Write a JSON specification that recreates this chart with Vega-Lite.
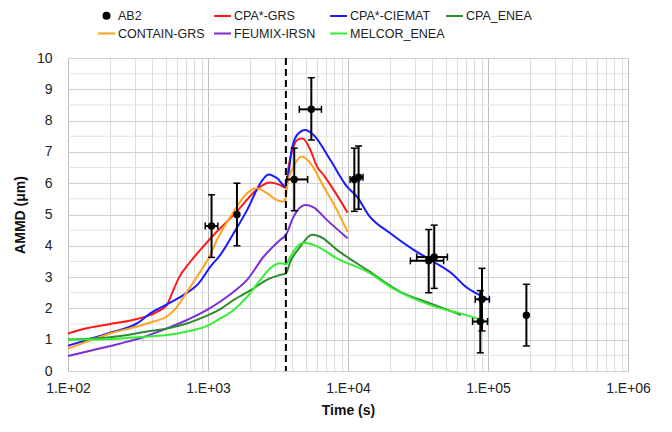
{
  "$schema": "https://vega.github.io/schema/vega-lite/v6.json",
  "width": 560,
  "height": 313,
  "autosize": {"type": "none"},
  "padding": {"left": 68, "top": 58, "right": 44, "bottom": 61},
  "background": "white",
  "config": {
    "font": "Liberation Sans",
    "view": {"stroke": "#c8c8c8", "strokeWidth": 1},
    "axis": {"labelOverlap": false, "labelFlush": false, "labelBound": false},
    "axisY": {"tickCount": 11, "labelOverlap": false}
  },
  "datasets": {
    "curves": [
      {"series": "CPA*-GRS", "t": 100, "v": 1.2}, {"series": "CPA*-GRS", "t": 129, "v": 1.34}, {"series": "CPA*-GRS", "t": 200, "v": 1.5}, {"series": "CPA*-GRS", "t": 311, "v": 1.66}, {"series": "CPA*-GRS", "t": 432, "v": 1.89}, {"series": "CPA*-GRS", "t": 509, "v": 2.11}, {"series": "CPA*-GRS", "t": 553, "v": 2.48}, {"series": "CPA*-GRS", "t": 617, "v": 2.96}, {"series": "CPA*-GRS", "t": 748, "v": 3.49}, {"series": "CPA*-GRS", "t": 881, "v": 3.87}, {"series": "CPA*-GRS", "t": 1069, "v": 4.29}, {"series": "CPA*-GRS", "t": 1611, "v": 5.1}, {"series": "CPA*-GRS", "t": 2118, "v": 5.7}, {"series": "CPA*-GRS", "t": 2366, "v": 5.89}, {"series": "CPA*-GRS", "t": 2786, "v": 6.02}, {"series": "CPA*-GRS", "t": 3281, "v": 5.94}, {"series": "CPA*-GRS", "t": 3600, "v": 5.85}, {"series": "CPA*-GRS", "t": 3767, "v": 6.53}, {"series": "CPA*-GRS", "t": 4083, "v": 7.17}, {"series": "CPA*-GRS", "t": 4400, "v": 7.4}, {"series": "CPA*-GRS", "t": 4742, "v": 7.43}, {"series": "CPA*-GRS", "t": 5383, "v": 7.06}, {"series": "CPA*-GRS", "t": 6012, "v": 6.53}, {"series": "CPA*-GRS", "t": 6699, "v": 6.26}, {"series": "CPA*-GRS", "t": 8337, "v": 5.62}, {"series": "CPA*-GRS", "t": 9930, "v": 5.06},

      {"series": "CPA*-CIEMAT", "t": 100, "v": 0.81}, {"series": "CPA*-CIEMAT", "t": 137, "v": 0.99}, {"series": "CPA*-CIEMAT", "t": 200, "v": 1.22}, {"series": "CPA*-CIEMAT", "t": 311, "v": 1.52}, {"series": "CPA*-CIEMAT", "t": 387, "v": 1.84}, {"series": "CPA*-CIEMAT", "t": 509, "v": 2.13}, {"series": "CPA*-CIEMAT", "t": 670, "v": 2.43}, {"series": "CPA*-CIEMAT", "t": 857, "v": 2.8}, {"series": "CPA*-CIEMAT", "t": 1038, "v": 3.33}, {"series": "CPA*-CIEMAT", "t": 1225, "v": 3.71}, {"series": "CPA*-CIEMAT", "t": 1524, "v": 4.4}, {"series": "CPA*-CIEMAT", "t": 1901, "v": 5.14}, {"series": "CPA*-CIEMAT", "t": 2366, "v": 6.0}, {"series": "CPA*-CIEMAT", "t": 2710, "v": 6.28}, {"series": "CPA*-CIEMAT", "t": 3112, "v": 6.16}, {"series": "CPA*-CIEMAT", "t": 3600, "v": 5.89}, {"series": "CPA*-CIEMAT", "t": 3981, "v": 7.12}, {"series": "CPA*-CIEMAT", "t": 4325, "v": 7.54}, {"series": "CPA*-CIEMAT", "t": 4955, "v": 7.7}, {"series": "CPA*-CIEMAT", "t": 5675, "v": 7.54}, {"series": "CPA*-CIEMAT", "t": 7482, "v": 6.74}, {"series": "CPA*-CIEMAT", "t": 9840, "v": 5.89}, {"series": "CPA*-CIEMAT", "t": 11588, "v": 5.57}, {"series": "CPA*-CIEMAT", "t": 14028, "v": 4.98}, {"series": "CPA*-CIEMAT", "t": 20045, "v": 4.4}, {"series": "CPA*-CIEMAT", "t": 29444, "v": 3.87}, {"series": "CPA*-CIEMAT", "t": 40832, "v": 3.49}, {"series": "CPA*-CIEMAT", "t": 56754, "v": 3.07}, {"series": "CPA*-CIEMAT", "t": 66988, "v": 2.75}, {"series": "CPA*-CIEMAT", "t": 98401, "v": 2.32},

      {"series": "CONTAIN-GRS", "t": 100, "v": 0.72}, {"series": "CONTAIN-GRS", "t": 137, "v": 0.94}, {"series": "CONTAIN-GRS", "t": 200, "v": 1.2}, {"series": "CONTAIN-GRS", "t": 311, "v": 1.42}, {"series": "CONTAIN-GRS", "t": 408, "v": 1.58}, {"series": "CONTAIN-GRS", "t": 509, "v": 1.74}, {"series": "CONTAIN-GRS", "t": 601, "v": 2.05}, {"series": "CONTAIN-GRS", "t": 708, "v": 2.53}, {"series": "CONTAIN-GRS", "t": 834, "v": 3.01}, {"series": "CONTAIN-GRS", "t": 1009, "v": 3.6}, {"series": "CONTAIN-GRS", "t": 1159, "v": 4.19}, {"series": "CONTAIN-GRS", "t": 1524, "v": 5.09}, {"series": "CONTAIN-GRS", "t": 1901, "v": 5.68}, {"series": "CONTAIN-GRS", "t": 2239, "v": 5.84}, {"series": "CONTAIN-GRS", "t": 2636, "v": 5.68}, {"series": "CONTAIN-GRS", "t": 3112, "v": 5.46}, {"series": "CONTAIN-GRS", "t": 3436, "v": 5.41}, {"series": "CONTAIN-GRS", "t": 3600, "v": 5.55}, {"series": "CONTAIN-GRS", "t": 3700, "v": 6.0}, {"series": "CONTAIN-GRS", "t": 4083, "v": 6.53}, {"series": "CONTAIN-GRS", "t": 4688, "v": 6.85}, {"series": "CONTAIN-GRS", "t": 5383, "v": 6.64}, {"series": "CONTAIN-GRS", "t": 6699, "v": 5.89}, {"series": "CONTAIN-GRS", "t": 8337, "v": 5.14}, {"series": "CONTAIN-GRS", "t": 9930, "v": 4.45},

      {"series": "FEUMIX-IRSN", "t": 100, "v": 0.48}, {"series": "FEUMIX-IRSN", "t": 152, "v": 0.67}, {"series": "FEUMIX-IRSN", "t": 237, "v": 0.88}, {"series": "FEUMIX-IRSN", "t": 366, "v": 1.12}, {"series": "FEUMIX-IRSN", "t": 509, "v": 1.36}, {"series": "FEUMIX-IRSN", "t": 708, "v": 1.63}, {"series": "FEUMIX-IRSN", "t": 984, "v": 1.95}, {"series": "FEUMIX-IRSN", "t": 1225, "v": 2.22}, {"series": "FEUMIX-IRSN", "t": 1524, "v": 2.53}, {"series": "FEUMIX-IRSN", "t": 1901, "v": 2.91}, {"series": "FEUMIX-IRSN", "t": 2495, "v": 3.65}, {"series": "FEUMIX-IRSN", "t": 3281, "v": 4.19}, {"series": "FEUMIX-IRSN", "t": 3600, "v": 4.35}, {"series": "FEUMIX-IRSN", "t": 4083, "v": 4.93}, {"series": "FEUMIX-IRSN", "t": 4955, "v": 5.3}, {"series": "FEUMIX-IRSN", "t": 5675, "v": 5.23}, {"series": "FEUMIX-IRSN", "t": 7079, "v": 4.82}, {"series": "FEUMIX-IRSN", "t": 9930, "v": 4.24},

      {"series": "CPA_ENEA", "t": 100, "v": 1.01}, {"series": "CPA_ENEA", "t": 152, "v": 1.04}, {"series": "CPA_ENEA", "t": 237, "v": 1.12}, {"series": "CPA_ENEA", "t": 366, "v": 1.26}, {"series": "CPA_ENEA", "t": 509, "v": 1.36}, {"series": "CPA_ENEA", "t": 708, "v": 1.52}, {"series": "CPA_ENEA", "t": 984, "v": 1.77}, {"series": "CPA_ENEA", "t": 1225, "v": 1.98}, {"series": "CPA_ENEA", "t": 1524, "v": 2.27}, {"series": "CPA_ENEA", "t": 2118, "v": 2.64}, {"series": "CPA_ENEA", "t": 2636, "v": 2.91}, {"series": "CPA_ENEA", "t": 3281, "v": 3.07}, {"series": "CPA_ENEA", "t": 3600, "v": 3.12}, {"series": "CPA_ENEA", "t": 3873, "v": 3.49}, {"series": "CPA_ENEA", "t": 4560, "v": 3.97}, {"series": "CPA_ENEA", "t": 5534, "v": 4.35}, {"series": "CPA_ENEA", "t": 6339, "v": 4.29}, {"series": "CPA_ENEA", "t": 8337, "v": 3.87}, {"series": "CPA_ENEA", "t": 13677, "v": 3.23}, {"series": "CPA_ENEA", "t": 23659, "v": 2.53}, {"series": "CPA_ENEA", "t": 38726, "v": 2.16}, {"series": "CPA_ENEA", "t": 64121, "v": 1.79},

      {"series": "MELCOR_ENEA", "t": 100, "v": 1.01}, {"series": "MELCOR_ENEA", "t": 152, "v": 1.01}, {"series": "MELCOR_ENEA", "t": 237, "v": 1.04}, {"series": "MELCOR_ENEA", "t": 366, "v": 1.1}, {"series": "MELCOR_ENEA", "t": 509, "v": 1.15}, {"series": "MELCOR_ENEA", "t": 708, "v": 1.26}, {"series": "MELCOR_ENEA", "t": 984, "v": 1.44}, {"series": "MELCOR_ENEA", "t": 1225, "v": 1.68}, {"series": "MELCOR_ENEA", "t": 1524, "v": 1.95}, {"series": "MELCOR_ENEA", "t": 1901, "v": 2.37}, {"series": "MELCOR_ENEA", "t": 2366, "v": 2.91}, {"series": "MELCOR_ENEA", "t": 2786, "v": 3.28}, {"series": "MELCOR_ENEA", "t": 3281, "v": 3.44}, {"series": "MELCOR_ENEA", "t": 3600, "v": 3.41}, {"series": "MELCOR_ENEA", "t": 3873, "v": 3.65}, {"series": "MELCOR_ENEA", "t": 4325, "v": 3.97}, {"series": "MELCOR_ENEA", "t": 4819, "v": 4.1}, {"series": "MELCOR_ENEA", "t": 5675, "v": 4.03}, {"series": "MELCOR_ENEA", "t": 8337, "v": 3.6}, {"series": "MELCOR_ENEA", "t": 14421, "v": 3.12}, {"series": "MELCOR_ENEA", "t": 20045, "v": 2.69}, {"series": "MELCOR_ENEA", "t": 31117, "v": 2.27}, {"series": "MELCOR_ENEA", "t": 45604, "v": 2.0}, {"series": "MELCOR_ENEA", "t": 63387, "v": 1.84}, {"series": "MELCOR_ENEA", "t": 98401, "v": 1.58}
    ],
    "obs": [
      {"series": "AB2", "t": 1060, "v": 4.63, "vlo": 3.63, "vhi": 5.63, "tlo": 955, "thi": 1176},
      {"series": "AB2", "t": 1610, "v": 5.0, "vlo": 4.0, "vhi": 6.0},
      {"series": "AB2", "t": 4130, "v": 6.12, "vlo": 5.12, "vhi": 7.12, "tlo": 3650, "thi": 5150},
      {"series": "AB2", "t": 5470, "v": 8.36, "vlo": 7.38, "vhi": 9.37, "tlo": 4490, "thi": 6460},
      {"series": "AB2", "t": 11100, "v": 6.12, "vlo": 5.1, "vhi": 7.12, "tlo": 10350, "thi": 11900},
      {"series": "AB2", "t": 11900, "v": 6.19, "vlo": 5.17, "vhi": 7.19, "tlo": 11100, "thi": 12800},
      {"series": "AB2", "t": 37700, "v": 3.52, "vlo": 2.5, "vhi": 4.52, "tlo": 27900, "thi": 48200},
      {"series": "AB2", "t": 41300, "v": 3.64, "vlo": 2.64, "vhi": 4.66, "tlo": 31000, "thi": 51300},
      {"series": "AB2", "t": 90600, "v": 2.29, "vlo": 1.28, "vhi": 3.28, "tlo": 81100, "thi": 102300},
      {"series": "AB2", "t": 88100, "v": 1.58, "vlo": 0.58, "vhi": 2.57, "tlo": 77600, "thi": 99300},
      {"series": "AB2", "t": 188000, "v": 1.78, "vlo": 0.8, "vhi": 2.77}
    ],
    "marker": [{"t": 3600}],
    "halfgrid": [{"g": 0.5}, {"g": 1.5}, {"g": 2.5}, {"g": 3.5}, {"g": 4.5}, {"g": 5.5}, {"g": 6.5}, {"g": 7.5}, {"g": 8.5}, {"g": 9.5}]
  },
  "layer": [
    {
      "data": {"name": "halfgrid"},
      "mark": {"type": "rule", "color": "#e3e3e3", "strokeWidth": 1},
      "encoding": {
        "y": {
          "field": "g", "type": "quantitative", "title": "AMMD (μm)",
          "scale": {"domain": [0, 10], "nice": false},
          "axis": {
            "title": "AMMD (μm)",
            "values": [0, 1, 2, 3, 4, 5, 6, 7, 8, 9, 10],
            "tickCount": 11,
            "format": "d",
            "grid": true,
            "gridColor": "#d0d0d0",
            "ticks": false, "tickSize": 0, "domain": false,
            "labelFont": "Liberation Sans", "labelFontSize": 14, "labelColor": "#222222",
            "labelPadding": 16, "labelOverlap": false, "labelFlush": false, "labelBound": false,
            "titleFont": "Liberation Sans", "titleFontSize": 14, "titleFontWeight": "bold", "titleColor": "#111111", "titlePadding": 9
          }
        }
      }
    },
    {
      "data": {"name": "curves"},
      "mark": {"type": "line", "strokeWidth": 2, "interpolate": "monotone"},
      "encoding": {
        "x": {
          "field": "t", "type": "quantitative", "title": "Time (s)",
          "scale": {"type": "log", "domain": [100, 1000000], "nice": false},
          "axis": {
            "title": "Time (s)",
            "values": [100, 200, 300, 400, 500, 600, 700, 800, 900, 1000, 2000, 3000, 4000, 5000, 6000, 7000, 8000, 9000, 10000, 20000, 30000, 40000, 50000, 60000, 70000, 80000, 90000, 100000, 200000, 300000, 400000, 500000, 600000, 700000, 800000, 900000, 1000000],
            "labelExpr": "abs(log(datum.value)/LN10 - round(log(datum.value)/LN10)) < 0.000001 ? '1.E+0' + round(log(datum.value)/LN10) : ''",
            "grid": true,
            "gridColor": {"condition": {"test": "abs(log(datum.value)/LN10 - round(log(datum.value)/LN10)) < 0.000001", "value": "#bdbdbd"}, "value": "#dcdcdc"},
            "gridWidth": 1,
            "ticks": false, "tickSize": 0, "domain": false,
            "labelFont": "Liberation Sans", "labelFontSize": 14, "labelColor": "#222222",
            "labelPadding": 10, "labelFlush": false, "labelOverlap": false, "labelBound": false,
            "titleFont": "Liberation Sans", "titleFontSize": 14, "titleFontWeight": "bold", "titleColor": "#111111", "titlePadding": 8
          }
        },
        "y": {
          "field": "v", "type": "quantitative", "title": "AMMD (μm)",
          "scale": {"domain": [0, 10], "nice": false},
          "axis": {
            "title": "AMMD (μm)",
            "values": [0, 1, 2, 3, 4, 5, 6, 7, 8, 9, 10],
            "tickCount": 11,
            "format": "d",
            "grid": true,
            "gridColor": "#d0d0d0",
            "ticks": false, "tickSize": 0, "domain": false,
            "labelFont": "Liberation Sans", "labelFontSize": 14, "labelColor": "#222222",
            "labelPadding": 16, "labelOverlap": false, "labelFlush": false, "labelBound": false,
            "titleFont": "Liberation Sans", "titleFontSize": 14, "titleFontWeight": "bold", "titleColor": "#111111", "titlePadding": 9
          }
        },
        "color": {
          "field": "series", "type": "nominal",
          "scale": {
            "domain": ["AB2", "CPA*-GRS", "CPA*-CIEMAT", "CPA_ENEA", "CONTAIN-GRS", "FEUMIX-IRSN", "MELCOR_ENEA"],
            "range": ["#000000", "#ff1a1a", "#1a1aff", "#2e8b2e", "#ffa31a", "#7a2fd8", "#33ee33"]
          },
          "legend": {
            "title": null,
            "orient": "none",
            "legendX": 29,
            "legendY": -52,
            "direction": "horizontal",
            "columns": 4,
            "gridAlign": "all",
            "columnPadding": -4,
            "rowPadding": 1,
            "padding": 0,
            "symbolType": "stroke",
            "symbolSize": 289,
            "symbolStrokeWidth": 2,
            "labelOffset": 2,
            "labelFont": "Liberation Sans",
            "labelFontSize": 12.5,
            "labelColor": "#222222",
            "encode": {
              "symbols": {
                "update": {
                  "shape": {"signal": "datum.value === 'AB2' ? 'circle' : 'stroke'"},
                  "size": {"signal": "datum.value === 'AB2' ? 36 : 289"},
                  "fill": {"signal": "datum.value === 'AB2' ? '#000000' : 'transparent'"}
                }
              }
            }
          }
        }
      }
    },
    {
      "data": {"name": "marker"},
      "mark": {"type": "rule", "color": "#000000", "strokeWidth": 2, "strokeDash": [7, 4]},
      "encoding": {
        "x": {"field": "t", "type": "quantitative", "title": "Time (s)", "scale": {"type": "log", "domain": [100, 1000000], "nice": false}}
      }
    },
    {
      "data": {"name": "obs"},
      "mark": {"type": "rule", "color": "#000000", "strokeWidth": 2},
      "encoding": {
        "x": {"field": "t", "type": "quantitative", "title": "Time (s)", "scale": {"type": "log", "domain": [100, 1000000], "nice": false}},
        "y": {"field": "vlo", "type": "quantitative", "title": "AMMD (μm)", "scale": {"domain": [0, 10], "nice": false}},
        "y2": {"field": "vhi"}
      }
    },
    {
      "data": {"name": "obs"},
      "transform": [{"filter": "isValid(datum.tlo)"}],
      "mark": {"type": "rule", "color": "#000000", "strokeWidth": 2},
      "encoding": {
        "x": {"field": "tlo", "type": "quantitative", "title": "Time (s)", "scale": {"type": "log", "domain": [100, 1000000], "nice": false}},
        "x2": {"field": "thi"},
        "y": {"field": "v", "type": "quantitative", "title": "AMMD (μm)", "scale": {"domain": [0, 10], "nice": false}}
      }
    },
    {
      "data": {"name": "obs"},
      "mark": {"type": "tick", "orient": "horizontal", "size": 7, "thickness": 1.5, "color": "#000000", "opacity": 1},
      "encoding": {
        "x": {"field": "t", "type": "quantitative", "title": "Time (s)", "scale": {"type": "log", "domain": [100, 1000000], "nice": false}},
        "y": {"field": "vhi", "type": "quantitative", "title": "AMMD (μm)", "scale": {"domain": [0, 10], "nice": false}}
      }
    },
    {
      "data": {"name": "obs"},
      "mark": {"type": "tick", "orient": "horizontal", "size": 7, "thickness": 1.5, "color": "#000000", "opacity": 1},
      "encoding": {
        "x": {"field": "t", "type": "quantitative", "title": "Time (s)", "scale": {"type": "log", "domain": [100, 1000000], "nice": false}},
        "y": {"field": "vlo", "type": "quantitative", "title": "AMMD (μm)", "scale": {"domain": [0, 10], "nice": false}}
      }
    },
    {
      "data": {"name": "obs"},
      "transform": [{"filter": "isValid(datum.tlo)"}],
      "mark": {"type": "tick", "orient": "vertical", "size": 7, "thickness": 1.5, "color": "#000000", "opacity": 1},
      "encoding": {
        "x": {"field": "tlo", "type": "quantitative", "title": "Time (s)", "scale": {"type": "log", "domain": [100, 1000000], "nice": false}},
        "y": {"field": "v", "type": "quantitative", "title": "AMMD (μm)", "scale": {"domain": [0, 10], "nice": false}}
      }
    },
    {
      "data": {"name": "obs"},
      "transform": [{"filter": "isValid(datum.thi)"}],
      "mark": {"type": "tick", "orient": "vertical", "size": 7, "thickness": 1.5, "color": "#000000", "opacity": 1},
      "encoding": {
        "x": {"field": "thi", "type": "quantitative", "title": "Time (s)", "scale": {"type": "log", "domain": [100, 1000000], "nice": false}},
        "y": {"field": "v", "type": "quantitative", "title": "AMMD (μm)", "scale": {"domain": [0, 10], "nice": false}}
      }
    },
    {
      "data": {"name": "obs"},
      "mark": {"type": "point", "filled": true, "size": 55, "opacity": 1},
      "encoding": {
        "x": {"field": "t", "type": "quantitative", "title": "Time (s)", "scale": {"type": "log", "domain": [100, 1000000], "nice": false}},
        "y": {"field": "v", "type": "quantitative", "title": "AMMD (μm)", "scale": {"domain": [0, 10], "nice": false}},
        "color": {"field": "series", "type": "nominal", "legend": null}
      }
    }
  ]
}
